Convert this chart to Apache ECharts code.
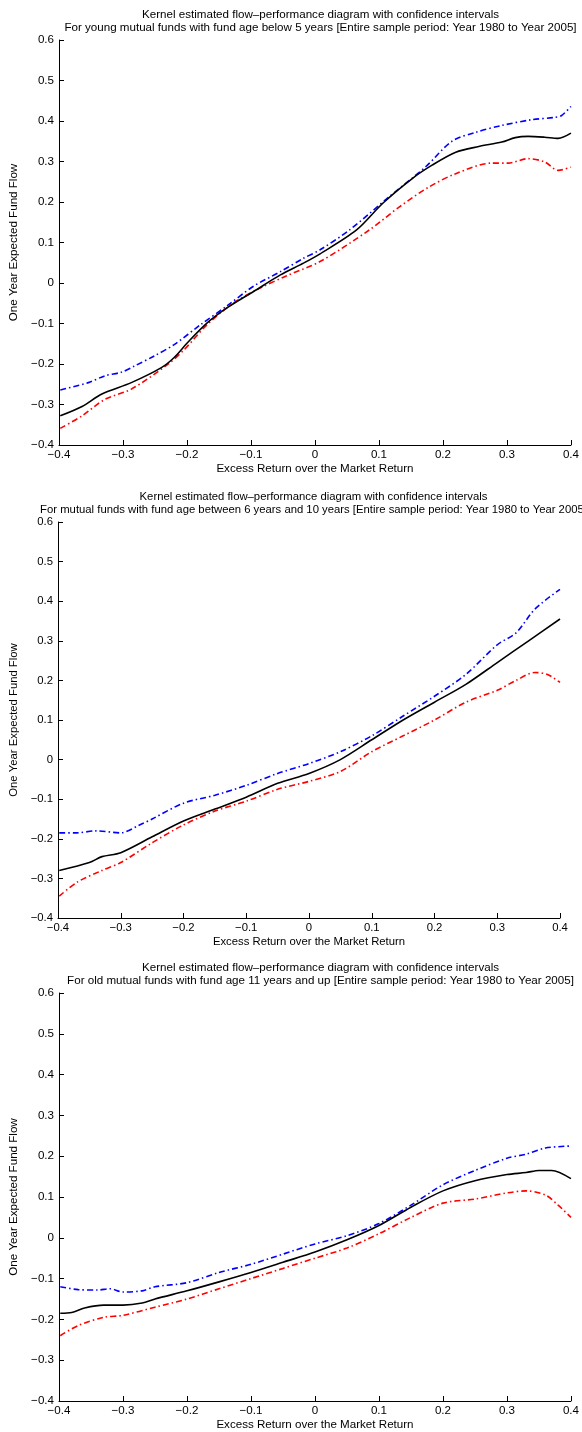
<!DOCTYPE html>
<html><head><meta charset="utf-8">
<script src="https://cdn.jsdelivr.net/npm/echarts@6/dist/echarts.min.js"></script>
<style>html,body{margin:0;padding:0;background:#fff}#c{width:582px;height:1432px}</style>
</head><body><div id="c"></div>
<script>
// ---------- tick labels / titles ----------
var titleLine1 = "Kernel estimated flow\u2013performance diagram with confidence intervals";
var subTitles = [
  "For young mutual funds with fund age below 5 years [Entire sample period: Year 1980 to Year 2005]",
  "For mutual funds with fund age between 6 years and 10 years [Entire sample period: Year 1980 to Year 2005]",
  "For old mutual funds with fund age 11 years and up [Entire sample period: Year 1980 to Year 2005]"
];
var xAxisName = "Excess Return over the Market Return";
var yAxisName = "One Year Expected Fund Flow";
var xTicks = [-0.4,-0.3,-0.2,-0.1,0,0.1,0.2,0.3,0.4];
var yTicks = [-0.4,-0.3,-0.2,-0.1,0,0.1,0.2,0.3,0.4,0.5,0.6];

// ---------- Panel 1: young funds ----------
var p1BlackX = [-0.398,-0.364,-0.333,-0.287,-0.240,-0.220,-0.199,-0.168,-0.137,-0.096,-0.054,-0.018,0.008,0.065,0.106,0.152,0.183,0.220,0.256,0.292,0.313,0.333,0.359,0.380,0.400];
var p1BlackY = [-0.328,-0.305,-0.274,-0.246,-0.209,-0.184,-0.147,-0.098,-0.061,-0.021,0.020,0.049,0.072,0.131,0.197,0.258,0.291,0.323,0.337,0.348,0.359,0.362,0.360,0.357,0.370];
var p1BlueX  = [-0.398,-0.354,-0.328,-0.302,-0.282,-0.251,-0.220,-0.178,-0.137,-0.096,-0.054,-0.018,0.008,0.054,0.116,0.173,0.214,0.251,0.292,0.338,0.375,0.385,0.400];
var p1BlueY  = [-0.264,-0.246,-0.229,-0.220,-0.205,-0.180,-0.152,-0.102,-0.056,-0.008,0.028,0.061,0.082,0.131,0.213,0.287,0.350,0.372,0.389,0.403,0.409,0.413,0.436];
var p1RedX   = [-0.398,-0.364,-0.328,-0.287,-0.230,-0.204,-0.168,-0.127,-0.085,-0.044,0.008,0.085,0.132,0.178,0.220,0.276,0.302,0.333,0.359,0.380,0.400];
var p1RedY   = [-0.359,-0.328,-0.287,-0.262,-0.201,-0.164,-0.102,-0.049,-0.012,0.018,0.053,0.131,0.188,0.237,0.270,0.296,0.296,0.307,0.299,0.278,0.286];

// ---------- Panel 2: funds aged 6-10 ----------
var p2BlackX = [-0.398,-0.35,-0.33,-0.30,-0.25,-0.20,-0.15,-0.10,-0.05,0.00,0.05,0.10,0.15,0.20,0.25,0.30,0.35,0.40];
var p2BlackY = [-0.280,-0.260,-0.245,-0.235,-0.195,-0.155,-0.125,-0.095,-0.060,-0.035,0.000,0.050,0.100,0.145,0.190,0.245,0.300,0.355];
var p2BlueX  = [-0.398,-0.37,-0.34,-0.30,-0.27,-0.25,-0.20,-0.15,-0.10,-0.05,0.00,0.05,0.10,0.15,0.20,0.25,0.30,0.33,0.36,0.40];
var p2BlueY  = [-0.185,-0.185,-0.180,-0.185,-0.165,-0.150,-0.110,-0.090,-0.065,-0.035,-0.010,0.020,0.060,0.110,0.160,0.215,0.290,0.320,0.380,0.430];
var p2RedX   = [-0.398,-0.37,-0.33,-0.30,-0.25,-0.20,-0.15,-0.10,-0.05,0.00,0.05,0.10,0.15,0.20,0.25,0.30,0.33,0.36,0.38,0.40];
var p2RedY   = [-0.345,-0.310,-0.280,-0.260,-0.210,-0.165,-0.130,-0.105,-0.075,-0.055,-0.030,0.020,0.060,0.100,0.145,0.175,0.200,0.220,0.215,0.195];

// ---------- Panel 3: old funds ----------
var p3BlackX = [-0.398,-0.38,-0.36,-0.33,-0.30,-0.27,-0.25,-0.20,-0.15,-0.10,-0.05,0.00,0.05,0.10,0.15,0.20,0.25,0.30,0.33,0.35,0.37,0.40];
var p3BlackY = [-0.185,-0.183,-0.172,-0.165,-0.165,-0.160,-0.150,-0.130,-0.108,-0.085,-0.060,-0.035,-0.005,0.030,0.075,0.115,0.140,0.155,0.160,0.165,0.165,0.145];
var p3BlueX  = [-0.398,-0.37,-0.34,-0.32,-0.30,-0.27,-0.25,-0.20,-0.15,-0.10,-0.05,0.00,0.05,0.10,0.15,0.20,0.25,0.30,0.33,0.36,0.40];
var p3BlueY  = [-0.120,-0.127,-0.128,-0.125,-0.133,-0.130,-0.120,-0.110,-0.085,-0.065,-0.040,-0.015,0.005,0.035,0.080,0.130,0.165,0.195,0.205,0.220,0.225];
var p3RedX   = [-0.398,-0.37,-0.33,-0.30,-0.25,-0.20,-0.15,-0.10,-0.05,0.00,0.05,0.10,0.15,0.20,0.25,0.30,0.33,0.36,0.38,0.40];
var p3RedY   = [-0.240,-0.215,-0.195,-0.190,-0.170,-0.150,-0.125,-0.100,-0.075,-0.050,-0.025,0.010,0.050,0.085,0.095,0.110,0.115,0.105,0.080,0.050];

var panels = [
  {black:[p1BlackX,p1BlackY], blue:[p1BlueX,p1BlueY], red:[p1RedX,p1RedY]},
  {black:[p2BlackX,p2BlackY], blue:[p2BlueX,p2BlueY], red:[p2RedX,p2RedY]},
  {black:[p3BlackX,p3BlackY], blue:[p3BlueX,p3BlueY], red:[p3RedX,p3RedY]}
];

// layout (pixels)
var grids = [
  {left:58, top:40,  width:515, height:405, fs:11.6},
  {left:57, top:522, width:503, height:396, fs:11.3},
  {left:58, top:993, width:515, height:409, fs:11.6}
];

var FONT = "Liberation Sans, Arial, Helvetica, sans-serif";
function fmt(v){ var r = Math.round(v*10)/10; if (r === 0) return "0"; return (r<0?"\u2212":"") + Math.abs(r); }
function zip(a,b){ return a.map(function(x,i){ return [x,b[i]]; }); }

var option = {animation:false, backgroundColor:'#fff', title:[], grid:[], xAxis:[], yAxis:[], series:[]};
grids.forEach(function(g, i){
  var fs = g.fs;
  option.grid.push({left:g.left, top:g.top, width:g.width, height:g.height, containLabel:false});
  option.title.push({
    text: titleLine1 + "\n" + subTitles[i],
    left: g.left + g.width/2, top: g.top - 37, textAlign:'center',
    textStyle:{fontFamily:FONT, fontSize:fs, fontWeight:'normal', color:'#000', lineHeight:13.5}
  });
  option.xAxis.push({
    type:'value', gridIndex:i, min:xTicks[0], max:xTicks[xTicks.length-1], interval:0.1,
    name:xAxisName, nameLocation:'middle', nameGap:18,
    nameTextStyle:{fontFamily:FONT, fontSize:fs, color:'#000'},
    axisLine:{onZero:false, lineStyle:{color:'#000', width:1}},
    axisTick:{inside:true, length:5, lineStyle:{color:'#000'}},
    axisLabel:{formatter:fmt, fontFamily:FONT, fontSize:fs, color:'#000', margin:4},
    splitLine:{show:false}
  });
  option.yAxis.push({
    type:'value', gridIndex:i, min:yTicks[0], max:yTicks[yTicks.length-1], interval:0.1,
    name:yAxisName, nameLocation:'middle', nameGap:39,
    nameTextStyle:{fontFamily:FONT, fontSize:fs, color:'#000'},
    axisLine:{onZero:false, lineStyle:{color:'#000', width:1}},
    axisTick:{inside:true, length:5, lineStyle:{color:'#000'}},
    axisLabel:{formatter:fmt, fontFamily:FONT, fontSize:fs, color:'#000', margin:5},
    splitLine:{show:false}
  });
  var p = panels[i];
  option.series.push({type:'line', xAxisIndex:i, yAxisIndex:i, data:zip(p.blue[0],p.blue[1]), showSymbol:false, smooth:0.3,
    lineStyle:{color:'#0000ff', width:1.6, type:[6,3,1.5,3]}});
  option.series.push({type:'line', xAxisIndex:i, yAxisIndex:i, data:zip(p.red[0],p.red[1]), showSymbol:false, smooth:0.3,
    lineStyle:{color:'#ff0000', width:1.6, type:[6,3,1.5,3]}});
  option.series.push({type:'line', xAxisIndex:i, yAxisIndex:i, data:zip(p.black[0],p.black[1]), showSymbol:false, smooth:0.3,
    lineStyle:{color:'#000000', width:1.6, type:'solid'}});
});

var chart = echarts.init(document.getElementById('c'), null, {renderer:'canvas', width:582, height:1432});
chart.setOption(option);
</script></body></html>
